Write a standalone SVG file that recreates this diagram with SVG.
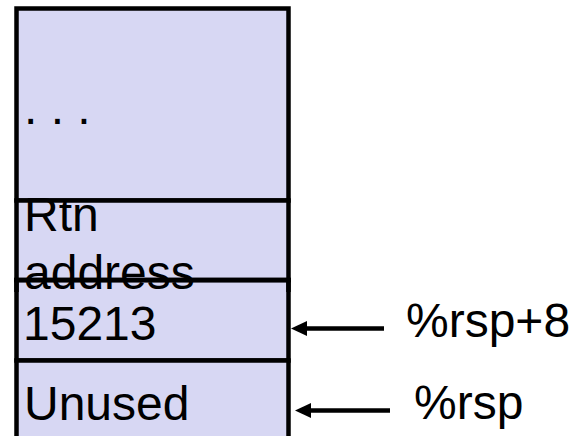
<svg xmlns="http://www.w3.org/2000/svg" width="576" height="436" viewBox="0 0 576 436">
  <style>
    .cell { fill: #d7d7f3; stroke: #000; stroke-width: 4.5; }
    .edge { stroke: #000; stroke-width: 4.5; fill: none; }
    .label { font-family: "Liberation Sans", Arial, sans-serif; font-size: 48px; fill: #000; }
    .ptr { stroke: #000; stroke-width: 4.5; fill: none; marker-end: url(#head); }
  </style>
  <defs>
    <marker id="head" viewBox="0 0 16 15" refX="8" refY="7.5" markerWidth="16" markerHeight="15" markerUnits="userSpaceOnUse" orient="auto">
      <path d="M0,0 L16,7.5 L0,15 z" fill="#000"/>
    </marker>
  </defs>

  <!-- stack frames -->
  <g id="frame-caller">
    <rect class="cell" x="16.5" y="8.5" width="272" height="192"/>
    <text class="label" x="24" y="124">. . .</text>
  </g>
  <g id="frame-15213">
    <rect class="cell" x="16.5" y="280" width="272" height="80.5"/>
    <text class="label" x="23" y="340">15213</text>
  </g>
  <g id="frame-unused">
    <rect class="cell" x="16.5" y="360.5" width="272" height="90"/>
    <text class="label" x="24" y="420">Unused</text>
  </g>
  <g id="frame-rtn">
    <rect class="cell" x="16.5" y="200.5" width="272" height="79.5"/>
    <text class="label" x="24" y="231">Rtn</text>
    <text class="label" x="24" y="289">address</text>
    <!-- the two-line label runs past the cell; the border stays on top -->
    <line class="edge" x1="14.25" y1="280" x2="290.75" y2="280"/>
    <line class="edge" x1="16.5" y1="280" x2="16.5" y2="292"/>
    <line class="edge" x1="288.5" y1="280" x2="288.5" y2="292"/>
  </g>

  <!-- register pointers -->
  <g id="connectors">
    <line class="ptr" x1="384" y1="328.5" x2="299" y2="328.5"/>
    <line class="ptr" x1="390" y1="410.5" x2="303" y2="410.5"/>
  </g>

  <g id="reg-rsp8">
    <text class="label" x="406" y="337">%rsp+8</text>
  </g>
  <g id="reg-rsp">
    <text class="label" x="414" y="419">%rsp</text>
  </g>
</svg>
